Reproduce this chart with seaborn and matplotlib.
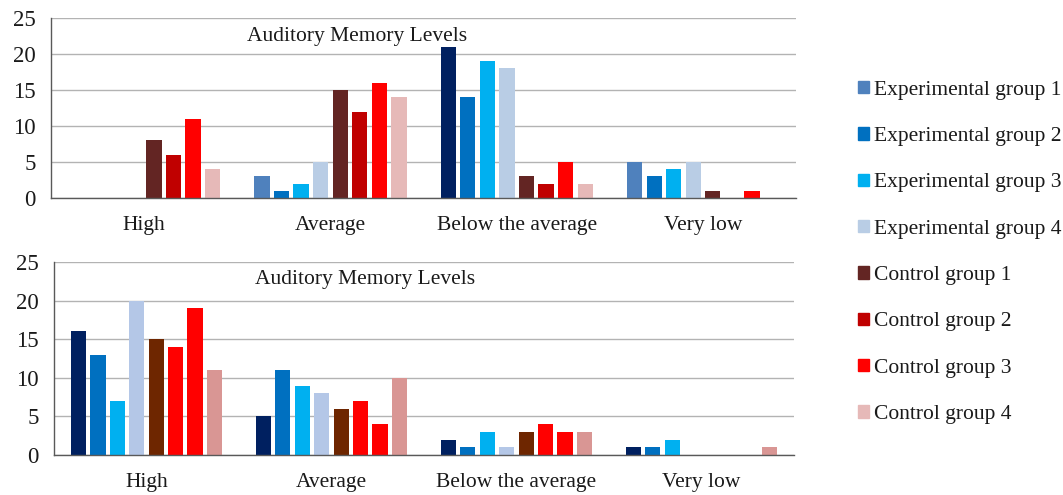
import pandas as pd
import seaborn as sns
import matplotlib.pyplot as plt

categories = ["High", "Average", "Below the average", "Very low"]
groups = ["Experimental group 1", "Experimental group 2", "Experimental group 3", "Experimental group 4",
          "Control group 1", "Control group 2", "Control group 3", "Control group 4"]

# counts per group, in category order (High, Average, Below the average, Very low)
top_exp = [[0, 3, 21, 5], [0, 1, 14, 3], [0, 2, 19, 4], [0, 5, 18, 5]]
top_ctrl = [[8, 15, 3, 1], [6, 12, 2, 0], [11, 16, 5, 1], [4, 14, 2, 0]]
bottom_exp = [[16, 5, 2, 1], [13, 11, 1, 1], [7, 9, 3, 2], [20, 8, 1, 0]]
bottom_ctrl = [[15, 6, 3, 0], [14, 7, 4, 0], [19, 4, 3, 0], [11, 10, 3, 1]]

legend_colors = ["#4F81BD", "#0070C0", "#00B0F0", "#B9CDE5",
                 "#632523", "#C00000", "#FF0000", "#E6B9B8"]
top_e1_colors = ["#4F81BD", "#4F81BD", "#002060", "#4F81BD"]
bottom_colors = ["#002060", "#0070C0", "#00B0F0", "#B4C7E7",
                 "#6E2600", "#FF0000", "#FF0000", "#D99694"]

title = "Auditory Memory Levels"
FS = 15.5


def to_long(exp, ctrl):
    rows = []
    for g, vals in zip(groups, exp + ctrl):
        for c, v in zip(categories, vals):
            rows.append({"level": c, "group": g, "count": v})
    return pd.DataFrame(rows)


df_top = to_long(top_exp, top_ctrl)
df_bottom = to_long(bottom_exp, bottom_ctrl)

sns.set_style("white")
plt.rcParams["font.family"] = ["Liberation Serif", "DejaVu Serif"]
plt.rcParams["text.color"] = "#1a1a1a"

fig = plt.figure(figsize=(10.63, 4.95), dpi=100)
ax1 = fig.add_axes([0.048, 0.6, 0.701, 0.3636])
ax2 = fig.add_axes([0.0508, 0.0808, 0.696, 0.3899])


def draw(ax, df, palette, tx, ty):
    sns.barplot(data=df, x="level", y="count", hue="group", order=categories,
                hue_order=groups, palette=palette, width=0.84, gap=0.22,
                saturation=1, errorbar=None, legend=False, linewidth=0, ax=ax)
    ax.set_ylim(0, 25)
    ax.set_yticks(range(0, 26, 5))
    ax.set_xlim(-0.5, 3.5)
    ax.yaxis.grid(True, color="#B3B3B3", lw=1)
    ax.set_axisbelow(True)
    for s in ["top", "right"]:
        ax.spines[s].set_visible(False)
    for s in ["left", "bottom"]:
        ax.spines[s].set_color("#595959")
        ax.spines[s].set_linewidth(1)
    ax.tick_params(axis="y", length=0, labelsize=16.5, pad=11, labelcolor="#1a1a1a")
    ax.tick_params(axis="x", length=0, labelsize=FS, pad=13, labelcolor="#1a1a1a")
    ax.set_xlabel("")
    ax.set_ylabel("")
    ax.text(tx, ty, title, transform=ax.transAxes, ha="center", va="center", fontsize=FS)


draw(ax1, df_top, legend_colors, 0.411, 0.9)
draw(ax2, df_bottom, bottom_colors, 0.42, 0.91)

# per-bar colours as in the original chart
for bar, col in zip(ax1.containers[0], top_e1_colors):
    bar.set_facecolor(col)

handles = [plt.Rectangle((0, 0), 1, 1, color=c) for c in legend_colors]
fig.legend(handles, groups, loc="center left", bbox_to_anchor=(0.807, 0.49),
           frameon=False, fontsize=FS, borderpad=0, borderaxespad=0,
           handlelength=0.5, handleheight=0.5, handletextpad=0.25,
           labelspacing=1.27)

fig.savefig("out.png", dpi=100)
